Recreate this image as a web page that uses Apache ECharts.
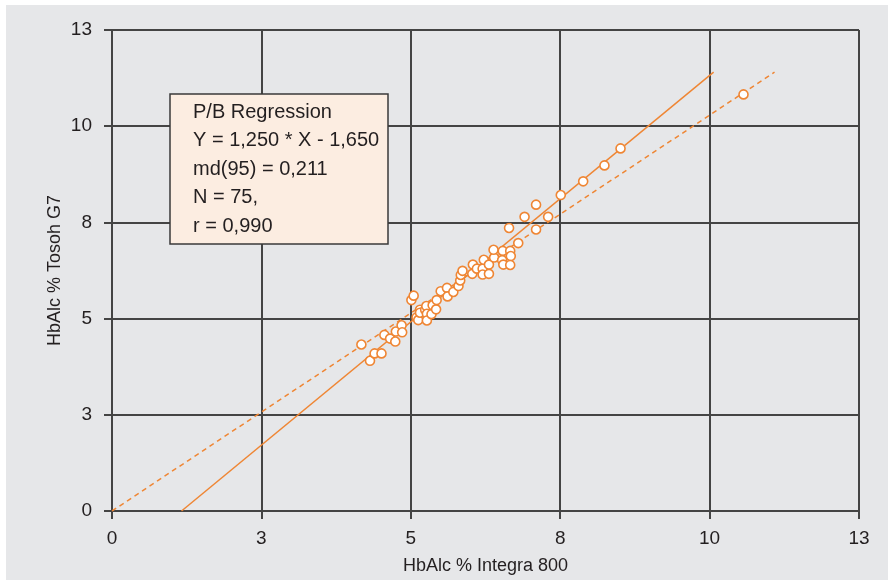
<!DOCTYPE html>
<html>
<head>
<meta charset="utf-8">
<script src="https://cdn.jsdelivr.net/npm/echarts@6/dist/echarts.min.js"></script>
<style>
html,body{margin:0;padding:0;background:#fff;}
#chart{width:888px;height:580px;}
</style>
</head>
<body>
<div id="chart"></div>
<script>
// ---- data ----
const tickLabels = ['0', '3', '5', '8', '10', '13'];
const pointsX = [4.34, 4.49, 4.57, 4.69, 4.74, 4.84, 4.93, 4.94, 5.04, 5.05,
  5.21, 5.25, 5.30, 5.33, 5.36, 5.36, 5.45, 5.47, 5.48, 5.48,
  5.56, 5.58, 5.64, 5.65, 5.72, 5.83, 5.84, 5.94, 6.03, 6.06,
  6.07, 6.10, 6.27, 6.28, 6.35, 6.45, 6.45, 6.47, 6.56, 6.56,
  6.65, 6.64, 6.80, 6.79, 6.81, 6.93, 6.94, 6.93, 6.91, 7.07,
  7.18, 7.38, 7.38, 7.59, 7.81, 8.20, 8.57, 8.85, 10.99];
const pointsY = [4.50, 4.06, 4.26, 4.26, 4.76, 4.66, 4.58, 4.85, 5.02, 4.83,
  5.70, 5.82, 5.23, 5.16, 5.44, 5.36, 5.44, 5.54, 5.33, 5.15,
  5.32, 5.56, 5.45, 5.70, 5.94, 6.03, 5.80, 5.92, 6.08, 6.23,
  6.38, 6.49, 6.41, 6.66, 6.55, 6.55, 6.39, 6.79, 6.41, 6.66,
  6.85, 7.06, 7.03, 6.78, 6.66, 7.03, 6.89, 6.65, 7.65, 7.24,
  7.95, 8.28, 7.61, 7.95, 8.54, 8.91, 9.34, 9.80, 11.26];
const regressionLineX = [1.21, 10.47];
const regressionLineY = [0, 11.86];
const identityLineX = [0, 11.53];
const identityLineY = [0, 11.86];
const infoLines = ['P/B Regression', 'Y = 1,250 * X - 1,650', 'md(95) = 0,211', 'N = 75,', 'r = 0,990'];
const xAxisTitle = 'HbAlc % Integra 800';
const yAxisTitle = 'HbAlc % Tosoh G7';

// ---- chart ----
const orange = '#ef8634';
const gridColor = '#444444';
const textColor = '#231f20';
const font = '"Liberation Sans", Arial, Helvetica, sans-serif';

const scatterData = pointsX.map((x, i) => [x, pointsY[i]]);
const regData = regressionLineX.map((x, i) => [x, regressionLineY[i]]);
const idData = identityLineX.map((x, i) => [x, identityLineY[i]]);

const tickFmt = v => tickLabels[Math.round(v / 2.6)] ?? '';

const axisCommon = {
  type: 'value', min: 0, max: 13, interval: 2.6,
  axisLine: {show: true, lineStyle: {color: gridColor, width: 2}},
  axisTick: {show: true, length: 8, inside: false, lineStyle: {color: gridColor, width: 2}},
  splitLine: {show: true, lineStyle: {color: gridColor, width: 2}},
  nameLocation: 'middle',
  nameMoveOverlap: false,
  nameTextStyle: {color: textColor, fontSize: 18, fontFamily: font},
};

const infoGraphics = [{
  type: 'rect', shape: {x: 170, y: 94, width: 218, height: 150},
  style: {fill: '#fcede1', stroke: '#3a3a3a', lineWidth: 1.5}, z: 100
}];
const lineYs = [112, 140.5, 169, 197.5, 226.5];
infoLines.forEach((t, i) => {
  infoGraphics.push({
    type: 'text', x: 193, y: lineYs[i], z: 101,
    style: {text: t, fill: textColor, font: '20px ' + font, textVerticalAlign: 'middle', textAlign: 'left'}
  });
});

const chart = echarts.init(document.getElementById('chart'), null, {renderer: 'canvas'});
chart.setOption({
  backgroundColor: 'transparent',
  animation: false,
  graphic: [
    {type: 'rect', shape: {x: 6, y: 5, width: 882, height: 575}, style: {fill: '#e6e7e9'}, z: -10, silent: true},
    ...infoGraphics
  ],
  grid: {left: 112, right: 29, top: 30, bottom: 65, containLabel: false},
  xAxis: Object.assign({}, axisCommon, {
    name: xAxisTitle, nameGap: 46,
    axisLabel: {formatter: tickFmt, color: textColor, fontSize: 19, fontFamily: font, margin: 18}
  }),
  yAxis: Object.assign({}, axisCommon, {
    name: yAxisTitle, nameGap: 48,
    axisLabel: {formatter: tickFmt, color: textColor, fontSize: 19, fontFamily: font, margin: 20}
  }),
  series: [
    {type: 'line', data: idData, symbol: 'none', lineStyle: {color: orange, width: 1.5, type: [5, 4]}, z: 2},
    {type: 'line', data: regData, symbol: 'none', lineStyle: {color: orange, width: 1.5}, z: 2},
    {type: 'scatter', data: scatterData, symbol: 'circle', symbolSize: 9,
      itemStyle: {color: '#ffffff', borderColor: orange, borderWidth: 1.6, opacity: 1}, z: 3}
  ]
});
</script>
</body>
</html>
